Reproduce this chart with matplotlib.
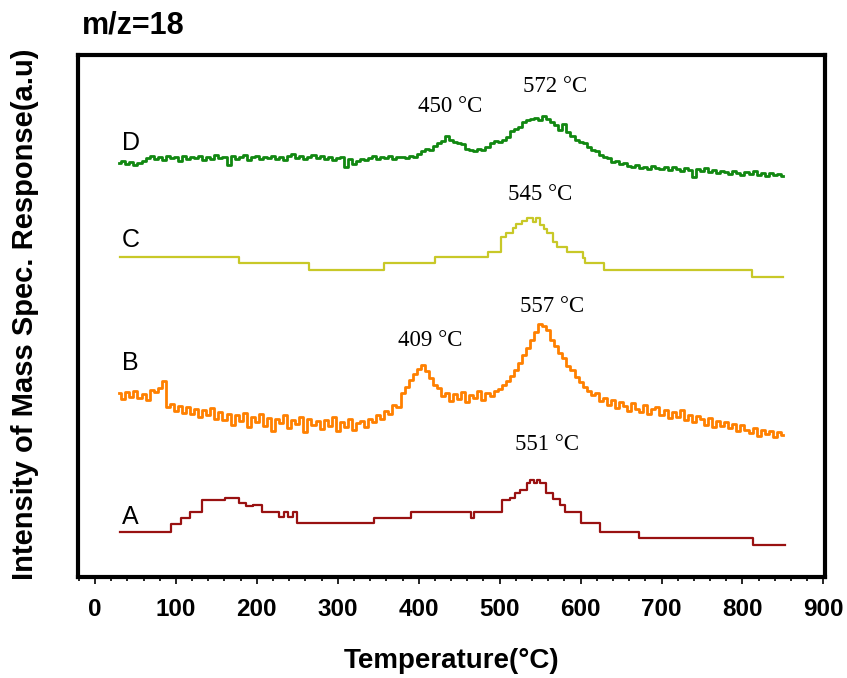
import matplotlib
matplotlib.use("Agg")
import matplotlib.pyplot as plt
from matplotlib.ticker import MultipleLocator

# ---------------- data (temperature in °C, intensity in arbitrary units) -------------
temp_A = [31, 94, 106, 117, 132, 161, 178, 187, 195, 206, 227, 233, 239, 245, 250, 345, 391, 464,
          468, 503, 513, 519, 525, 534, 538, 542, 546, 550, 557, 566, 574, 581, 601, 624, 672, 813, 852]
sig_A = [45, 53, 59, 65, 77, 79, 74, 71, 72, 65, 60, 65, 60, 65, 54, 59, 65, 59,
         65, 77, 79, 84, 87, 94, 97, 94, 97, 94, 84, 78, 72, 65, 54, 45, 39, 32, 32]

temp_C = [31, 178, 265, 357, 420, 485, 502, 508, 516, 520, 527, 534, 541, 545, 550, 555, 559,
          566, 571, 583, 603, 606, 629, 812, 850]
sig_C = [320, 314, 307, 314, 320, 325, 340, 344, 349, 353, 356, 359, 355, 359, 352, 348, 344,
         335, 330, 325, 319, 314, 307, 300, 300]

# B and D were sampled every 5 °C from 30 to 850 °C
temp_BD = list(range(30, 855, 5))
sig_B = [184, 178, 185, 180, 186, 179, 183, 177, 187, 185,
         189, 196, 170, 173, 166, 171, 164, 170, 163, 168,
         160, 167, 162, 169, 158, 165, 157, 163, 152, 162,
         156, 164, 150, 160, 155, 163, 151, 159, 146, 158,
         154, 162, 149, 157, 153, 160, 145, 158, 152, 156,
         148, 157, 151, 160, 146, 155, 150, 158, 147, 154,
         156, 150, 158, 155, 162, 158, 166, 163, 172, 170,
         184, 190, 197, 203, 208, 212, 206, 199, 192, 189,
         181, 184, 176, 183, 178, 185, 175, 182, 179, 186,
         177, 184, 181, 186, 188, 192, 196, 201, 207, 214,
         222, 229, 237, 245, 253, 251, 247, 237, 231, 224,
         219, 211, 207, 200, 195, 190, 186, 182, 184, 176,
         179, 172, 177, 169, 175, 171, 166, 174, 168, 165,
         172, 163, 168, 170, 162, 167, 159, 165, 160, 167,
         157, 162, 155, 161, 158, 152, 159, 150, 156, 151,
         155, 149, 153, 146, 152, 147, 144, 149, 141, 147,
         143, 146, 140, 145, 142]
sig_D = [414, 416, 413, 415, 412, 414, 416, 419, 421, 418,
         420, 417, 421, 419, 420, 416, 421, 418, 420, 419,
         421, 417, 420, 418, 422, 419, 420, 412, 421, 418,
         420, 422, 417, 420, 421, 418, 420, 419, 421, 418,
         420, 417, 421, 423, 419, 421, 418, 420, 422, 419,
         421, 418, 420, 417, 419, 420, 410, 418, 413, 416,
         418, 417, 419, 421, 418, 420, 419, 421, 418, 420,
         420, 419, 421, 420, 423, 426, 428, 427, 431, 434,
         436, 441, 437, 435, 434, 433, 428, 427, 426, 428,
         427, 430, 434, 436, 435, 437, 440, 446, 448, 450,
         455, 457, 458, 459, 457, 461, 458, 455, 452, 447,
         453, 445, 441, 437, 435, 434, 430, 427, 426, 422,
         420, 419, 415, 416, 413, 414, 411, 410, 412, 409,
         410, 408, 411, 409, 408, 410, 407, 410, 408, 406,
         409, 407, 400, 408, 406, 409, 405, 407, 404, 406,
         405, 403, 406, 404, 402, 405, 403, 406, 402, 404,
         401, 404, 402, 403, 401]

curve_labels = ["A", "B", "C", "D"]
label_heights = [60, 214, 337, 434]

peak_texts = ["450 °C", "572 °C", "545 °C", "557 °C", "409 °C", "551 °C"]
peak_x = [439, 569, 550, 565, 414, 558]
peak_y = [471, 490, 382, 270, 236, 132]

xticks = [0, 100, 200, 300, 400, 500, 600, 700, 800, 900]

# ---------------- figure ---------------------------------------------------------------
W, H = 847, 678
fig = plt.figure(figsize=(W / 100, H / 100), dpi=100)
ax = fig.add_axes([78 / W, 1 - 577 / H, (825 - 78) / W, (577 - 55) / H])

ax.plot(temp_A, sig_A, color="#991111", lw=1.6, drawstyle="steps-post")
ax.plot(temp_C, sig_C, color="#c8c828", lw=1.6, drawstyle="steps-post")
ax.plot(temp_BD, sig_B, color="#ff8000", lw=2.0, drawstyle="steps-mid")
ax.plot(temp_BD, sig_D, color="#118811", lw=2.0, drawstyle="steps-mid")

for lab, h in zip(curve_labels, label_heights):
    ax.text(33, h, lab, fontsize=18, family="Liberation Sans", ha="left", va="center")

for t, x, y in zip(peak_texts, peak_x, peak_y):
    ax.text(x, y, t, fontsize=16.5, family="Liberation Serif", ha="center", va="center")

ax.set_xlim(-21, 902)
ax.set_ylim(0, 522)
ax.set_xticks(xticks)
ax.xaxis.set_minor_locator(MultipleLocator(20))
ax.set_yticks([])
for lbl in ax.get_xticklabels():
    lbl.set_fontweight("bold")
    lbl.set_family("Liberation Sans")
    lbl.set_fontsize(17.5)
ax.tick_params(axis="x", which="major", direction="out", length=5, width=1.2, pad=10)
ax.tick_params(axis="x", which="minor", direction="out", length=3, width=1.2)
for sp in ax.spines.values():
    sp.set_linewidth(3)

fig.text(452 / W, 1 - 661 / H, "Temperature(°C)", fontsize=20, fontweight="bold",
         family="Liberation Sans", ha="center", va="center")
fig.text(25 / W, 1 - 314 / H, "Intensity of Mass Spec. Response(a.u)", fontsize=21,
         fontweight="bold", family="Liberation Sans", ha="center", va="center", rotation=90)
fig.text(82 / W, 1 - 26 / H, "m/z=18", fontsize=22, fontweight="bold",
         family="Liberation Sans", ha="left", va="center")

fig.savefig("out.png", dpi=100)
